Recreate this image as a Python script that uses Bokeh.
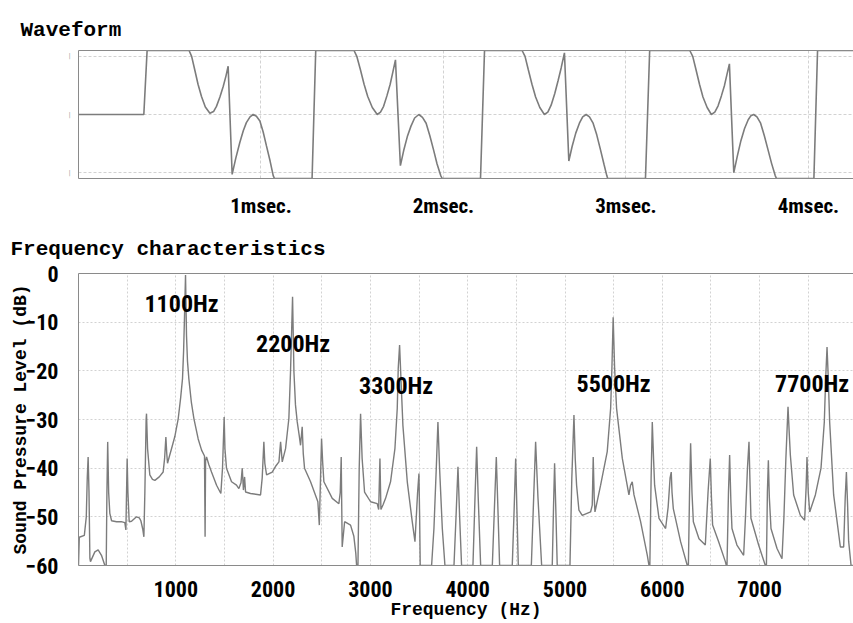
from bokeh.plotting import figure
from bokeh.layouts import column
from bokeh.models import FixedTicker, LinearAxis, Range1d
from bokeh.core.properties import value
from bokeh.embed import file_html
from bokeh.resources import INLINE

# ---------------- Waveform (time in ms, relative amplitude) ----------------
wave_time_ms = [
    0, 0.358, 0.376, 0.606, 0.62, 0.637, 0.655, 0.674, 0.695, 0.72,
    0.74, 0.756, 0.775, 0.793, 0.808, 0.82, 0.842, 0.862, 0.884, 0.903,
    0.92, 0.94, 0.957, 0.975, 0.994, 1.012, 1.03, 1.05, 1.067, 1.074,
    1.28, 1.30, 1.51, 1.525, 1.545, 1.565, 1.585, 1.61, 1.637, 1.655,
    1.672, 1.69, 1.708, 1.722, 1.737, 1.764, 1.782, 1.802, 1.822, 1.842,
    1.865, 1.885, 1.905, 1.925, 1.945, 1.965, 1.985, 1.993,
    2.203, 2.225, 2.431, 2.447, 2.465, 2.485, 2.505, 2.528, 2.553, 2.572,
    2.59, 2.61, 2.628, 2.645, 2.663, 2.687, 2.705, 2.725, 2.745, 2.763,
    2.782, 2.8, 2.82, 2.84, 2.86, 2.88, 2.895, 2.9,
    3.107, 3.13, 3.35, 3.366, 3.384, 3.403, 3.422, 3.445, 3.468, 3.487,
    3.505, 3.523, 3.54, 3.553, 3.567, 3.591, 3.61, 3.63, 3.65, 3.67,
    3.685, 3.7, 3.718, 3.738, 3.758, 3.778, 3.798, 3.818, 3.825,
    4.03, 4.05, 4.25,
]
wave_amplitude = [
    0, 0, 1.1, 1.1, 1.0, 0.77, 0.52, 0.31, 0.13, 0.02,
    0.05, 0.14, 0.3, 0.48, 0.66, 0.83, -1.03, -0.75, -0.48, -0.28,
    -0.14, -0.04, 0.0, -0.03, -0.11, -0.3, -0.54, -0.8, -1.05, -1.1,
    -1.1, 1.1, 1.1, 1.0, 0.77, 0.52, 0.31, 0.12, 0.0, 0.04,
    0.14, 0.32, 0.52, 0.72, 0.94, -0.88, -0.62, -0.38, -0.2, -0.06,
    0.0, -0.05, -0.15, -0.36, -0.6, -0.85, -1.05, -1.1,
    -1.1, 1.1, 1.1, 1.0, 0.77, 0.52, 0.3, 0.12, 0.0, 0.04,
    0.16, 0.36, 0.58, 0.8, 1.06, -0.8, -0.55, -0.32, -0.15, -0.04,
    0.0, -0.04, -0.15, -0.35, -0.6, -0.86, -1.05, -1.1,
    -1.1, 1.1, 1.1, 1.0, 0.77, 0.52, 0.3, 0.12, 0.0, 0.04,
    0.15, 0.32, 0.5, 0.68, 0.87, -1.0, -0.72, -0.45, -0.24, -0.09,
    -0.02, 0.0, -0.04, -0.15, -0.36, -0.6, -0.84, -1.05, -1.1,
    -1.1, 1.1, 1.1,
]
time_ticks = [1, 2, 3, 4]
time_labels = ["1msec.", "2msec.", "3msec.", "4msec."]
amp_ticks = [-1, 0, 1]

# ---------------- Frequency characteristics ----------------
freq_hz = [
    0, 8, 60, 80, 90, 99, 108, 117, 123, 168,
    202, 236, 271, 285, 292, 300, 310, 322, 340, 391,
    440, 476, 487, 500, 508, 521, 545, 596, 625, 641,
    660, 672, 682, 695, 699, 710, 733, 760, 785, 830,
    870, 885, 898, 907, 915, 935, 956, 990, 1025, 1050,
    1069, 1080, 1088, 1100, 1110, 1120, 1134, 1160, 1186, 1230,
    1265, 1295, 1301, 1306, 1316, 1340, 1367, 1419, 1463, 1480,
    1497, 1505, 1521, 1573, 1624, 1648, 1670, 1683, 1695, 1707,
    1717, 1768, 1871, 1888, 1905, 1915, 1933, 1991, 2030, 2060,
    2077, 2094, 2128, 2162, 2179, 2200, 2214, 2230, 2248, 2270,
    2282, 2299, 2310, 2323, 2385, 2460, 2475, 2490, 2498, 2510,
    2522, 2608, 2676, 2690, 2700, 2710, 2735, 2796, 2830, 2850,
    2858, 2872, 2885, 2899, 2915, 2940, 3002, 3070, 3085, 3098,
    3108, 3130, 3156, 3207, 3252, 3276, 3286, 3300, 3314, 3334,
    3379, 3430, 3458, 3485, 3499, 3506, 3512, 3629, 3653, 3677,
    3694, 3711, 3739, 3766, 3859, 3880, 3900, 3917, 3937, 4054,
    4075, 4092, 4108, 4133, 4253, 4275, 4294, 4310, 4328, 4458,
    4478, 4493, 4505, 4520, 4654, 4678, 4698, 4722, 4760, 4869,
    4882, 4893, 4905, 4920, 5051, 5070, 5092, 5105, 5119, 5143,
    5177, 5263, 5280, 5290, 5300, 5308, 5366, 5434, 5469, 5482,
    5495, 5510, 5530, 5589, 5657, 5674, 5691, 5709, 5777, 5846,
    5863, 5872, 5885, 5897, 5910, 5921, 5966, 6034, 6060, 6080,
    6092, 6100, 6113, 6188, 6257, 6268, 6280, 6291, 6305, 6319,
    6377, 6442, 6470, 6493, 6505, 6517, 6579, 6648, 6658, 6665,
    6680, 6692, 6705, 6716, 6767, 6836, 6855, 6875, 6891, 6900,
    6911, 6990, 7059, 7070, 7080, 7090, 7100, 7117, 7179, 7230,
    7250, 7270, 7292, 7305, 7316, 7350, 7419, 7463, 7478, 7487,
    7500, 7515, 7573, 7631, 7665, 7679, 7693, 7706, 7720, 7761,
    7830, 7864, 7880, 7892, 7905, 7915, 7940, 7970,
]
level_db = [
    -60, -54.2, -53.8, -50, -42, -37.7, -45, -58.5, -59.2, -57.2,
    -56.8, -57.9, -60, -60, -45, -34.6, -45, -49.3, -50.8, -51,
    -51, -51.2, -52.7, -38, -45, -51, -50.9, -50, -50.2, -50.8,
    -52.5, -54.1, -45, -30, -28.8, -36, -41.4, -42.3, -42.5, -41.8,
    -40.8, -38, -33.6, -37, -39, -37.5, -36, -33.5, -29.8, -25.5,
    -21.6, -16, -10, -0.3, -12.7, -18, -21.6, -26.5, -29.8, -34,
    -36.3, -37.5, -54.1, -38.5, -37.7, -39.3, -40.8, -43.5, -45.2, -40,
    -29.5, -36, -40, -42.8, -43.5, -44.2, -43, -40, -44.5, -41.8,
    -44.9, -45.2, -45.5, -42, -34.6, -39, -41.4, -40.8, -39.5, -38.7,
    -34.6, -38.7, -36, -29.8, -20.2, -4.8, -20.2, -27, -30.5, -33.5,
    -35.3, -31.5, -37, -40, -42.8, -46.9, -51.7, -40, -33.9, -39,
    -42.8, -46.2, -47.3, -45, -37.7, -56.2, -51, -51.7, -54, -57.5,
    -60, -60, -40, -28.8, -38, -44.9, -46.9, -47.3, -48.5, -38,
    -48.5, -47.5, -46.2, -42.8, -36, -27.7, -19.5, -14.7, -21.6, -31.2,
    -42.8, -51, -55.1, -45, -41.1, -50, -60, -60, -52.4, -40,
    -30.5, -40, -52.4, -60, -60, -50, -39.7, -50, -60, -60,
    -46, -35.6, -46, -60, -60, -48, -37.7, -48, -60, -60,
    -48, -38, -48, -60, -60, -46, -34.6, -46, -60, -60,
    -48, -39, -48, -60, -60, -42, -29.1, -38, -43.5, -48.6,
    -49.7, -49, -47.6, -37.7, -46, -49, -43.5, -36.6, -27.7, -19.5,
    -9, -19.5, -27.7, -38, -45.5, -43.5, -42.8, -45.5, -51, -57.9,
    -60, -60, -42, -30.5, -38, -43.5, -50.3, -52.4, -48, -42,
    -40.8, -45, -48.3, -55.1, -60, -60, -45, -34.9, -45, -51,
    -54.5, -55.8, -45, -38, -46, -51.7, -55.1, -59.2, -60, -60,
    -45, -37.3, -47, -52.4, -55.8, -57.9, -50, -40, -34.6, -42,
    -50.3, -55.8, -60, -60, -45, -38.4, -46, -52.4, -56.5, -58.6,
    -50, -38, -27.4, -33, -37.3, -45.5, -49.7, -50.7, -44, -37.7,
    -45, -49, -45.5, -40, -30.5, -21.6, -15.1, -21.6, -30.5, -45.5,
    -56.2, -56.2, -46, -40.8, -48, -55, -60, -60,
]
freq_ticks = [1000, 2000, 3000, 4000, 5000, 6000, 7000]
freq_grid = [500, 1000, 1500, 2000, 2500, 3000, 3500, 4000, 4500, 5000, 5500, 6000, 6500, 7000, 7500]
db_ticks = [0, -10, -20, -30, -40, -50, -60]

peak_names = ["1100Hz", "2200Hz", "3300Hz", "5500Hz", "7700Hz"]
peak_name_hz = [1059, 2205, 3264, 5500, 7540]
peak_name_db = [-6.2, -14.5, -23.1, -22.7, -22.7]

assert len(wave_time_ms) == len(wave_amplitude)
assert len(freq_hz) == len(level_db)

MONO = "Liberation Mono"
NARROW = "Roboto Condensed, DejaVu Sans Condensed, Roboto"
FRAME = "#8a8a8a"
GRID = "#d2d2d2"
TRACE = "#7c7c7c"


def base_style(p):
    p.outline_line_color = None
    p.background_fill_color = "white"
    p.border_fill_color = "white"
    for ax in p.axis:
        ax.axis_line_color = FRAME
        ax.major_tick_line_color = None
        ax.minor_tick_line_color = None
        ax.major_label_text_font = NARROW
        ax.major_label_text_font_style = "bold"
        ax.major_label_text_color = "black"
        ax.axis_label_text_color = "black"
    p.title.align = "left"
    p.title.text_font = MONO
    p.title.text_font_style = "bold"
    p.title.text_font_size = "21px"
    p.title.text_color = "black"


def add_top_border(p):
    top = LinearAxis(ticker=FixedTicker(ticks=[]), axis_line_color=FRAME,
                     major_tick_line_color=None, minor_tick_line_color=None,
                     major_label_text_font_size="0px", major_label_standoff=0)
    p.add_layout(top, "above")


# ---- waveform panel ----
p1 = figure(width=853, height=220, x_range=Range1d(0, 4.247), y_range=Range1d(-1.1, 1.1),
            output_backend="svg", toolbar_location=None, title="Waveform",
            min_border_left=78, min_border_right=0, min_border_top=50, min_border_bottom=40)
base_style(p1)
p1.title.offset = -58
p1.title.standoff = 18
p1.xaxis.ticker = FixedTicker(ticks=time_ticks)
p1.xaxis.major_label_overrides = {t: s for t, s in zip(time_ticks, time_labels)}
p1.xaxis.major_label_text_font_size = "21px"
p1.xaxis.major_label_standoff = 9
p1.yaxis.ticker = FixedTicker(ticks=amp_ticks)
p1.yaxis.major_label_overrides = {t: "|" for t in amp_ticks}
p1.yaxis.major_label_text_font_size = "7px"
p1.yaxis.major_label_text_color = "#aaaaaa"
p1.yaxis.major_label_standoff = 2
p1.xgrid.ticker = FixedTicker(ticks=time_ticks)
p1.ygrid.ticker = FixedTicker(ticks=amp_ticks)
for g in (p1.xgrid, p1.ygrid):
    g.grid_line_color = GRID
    g.grid_line_dash = "3 2"
p1.line(wave_time_ms, wave_amplitude, line_color=TRACE, line_width=1.6)
add_top_border(p1)

# ---- spectrum panel ----
p2 = figure(width=853, height=403, x_range=Range1d(0, 7965), y_range=Range1d(-60, 0),
            output_backend="svg", toolbar_location=None, title="Frequency characteristics",
            min_border_left=78, min_border_right=0, min_border_top=53, min_border_bottom=58)
base_style(p2)
p2.title.offset = -68
p2.title.standoff = 25
p2.xaxis.ticker = FixedTicker(ticks=freq_ticks)
p2.xaxis.major_label_text_font_size = "22px"
p2.xaxis.major_label_standoff = 9
p2.xaxis.axis_label = "Frequency (Hz)"
p2.xaxis.axis_label_text_font = MONO
p2.xaxis.axis_label_text_font_style = "bold"
p2.xaxis.axis_label_text_font_size = "18px"
p2.xaxis.axis_label_standoff = 0
p2.yaxis.ticker = FixedTicker(ticks=db_ticks)
p2.yaxis.major_label_text_font_size = "22px"
p2.yaxis.major_label_text_baseline = "top"
p2.yaxis.major_label_standoff = 14
p2.yaxis.axis_label = "Sound Pressure Level (dB)"
p2.yaxis.axis_label_text_font = MONO
p2.yaxis.axis_label_text_font_style = "bold"
p2.yaxis.axis_label_text_font_size = "18px"
p2.yaxis.axis_label_standoff = -8
p2.xgrid.ticker = FixedTicker(ticks=freq_grid)
p2.ygrid.ticker = FixedTicker(ticks=db_ticks)
for g in (p2.xgrid, p2.ygrid):
    g.grid_line_color = GRID
    g.grid_line_dash = "2 2"
p2.line(freq_hz, level_db, line_color=TRACE, line_width=1.4)
p2.text(x=peak_name_hz, y=peak_name_db, text=peak_names, text_font=value(NARROW),
        text_font_style="bold", text_font_size="24px", text_color="black",
        text_align="center", text_baseline="middle")
add_top_border(p2)

layout = column(p1, p2, spacing=0)
open("out.html", "w").write(file_html(layout, INLINE, "Waveform and frequency characteristics"))
